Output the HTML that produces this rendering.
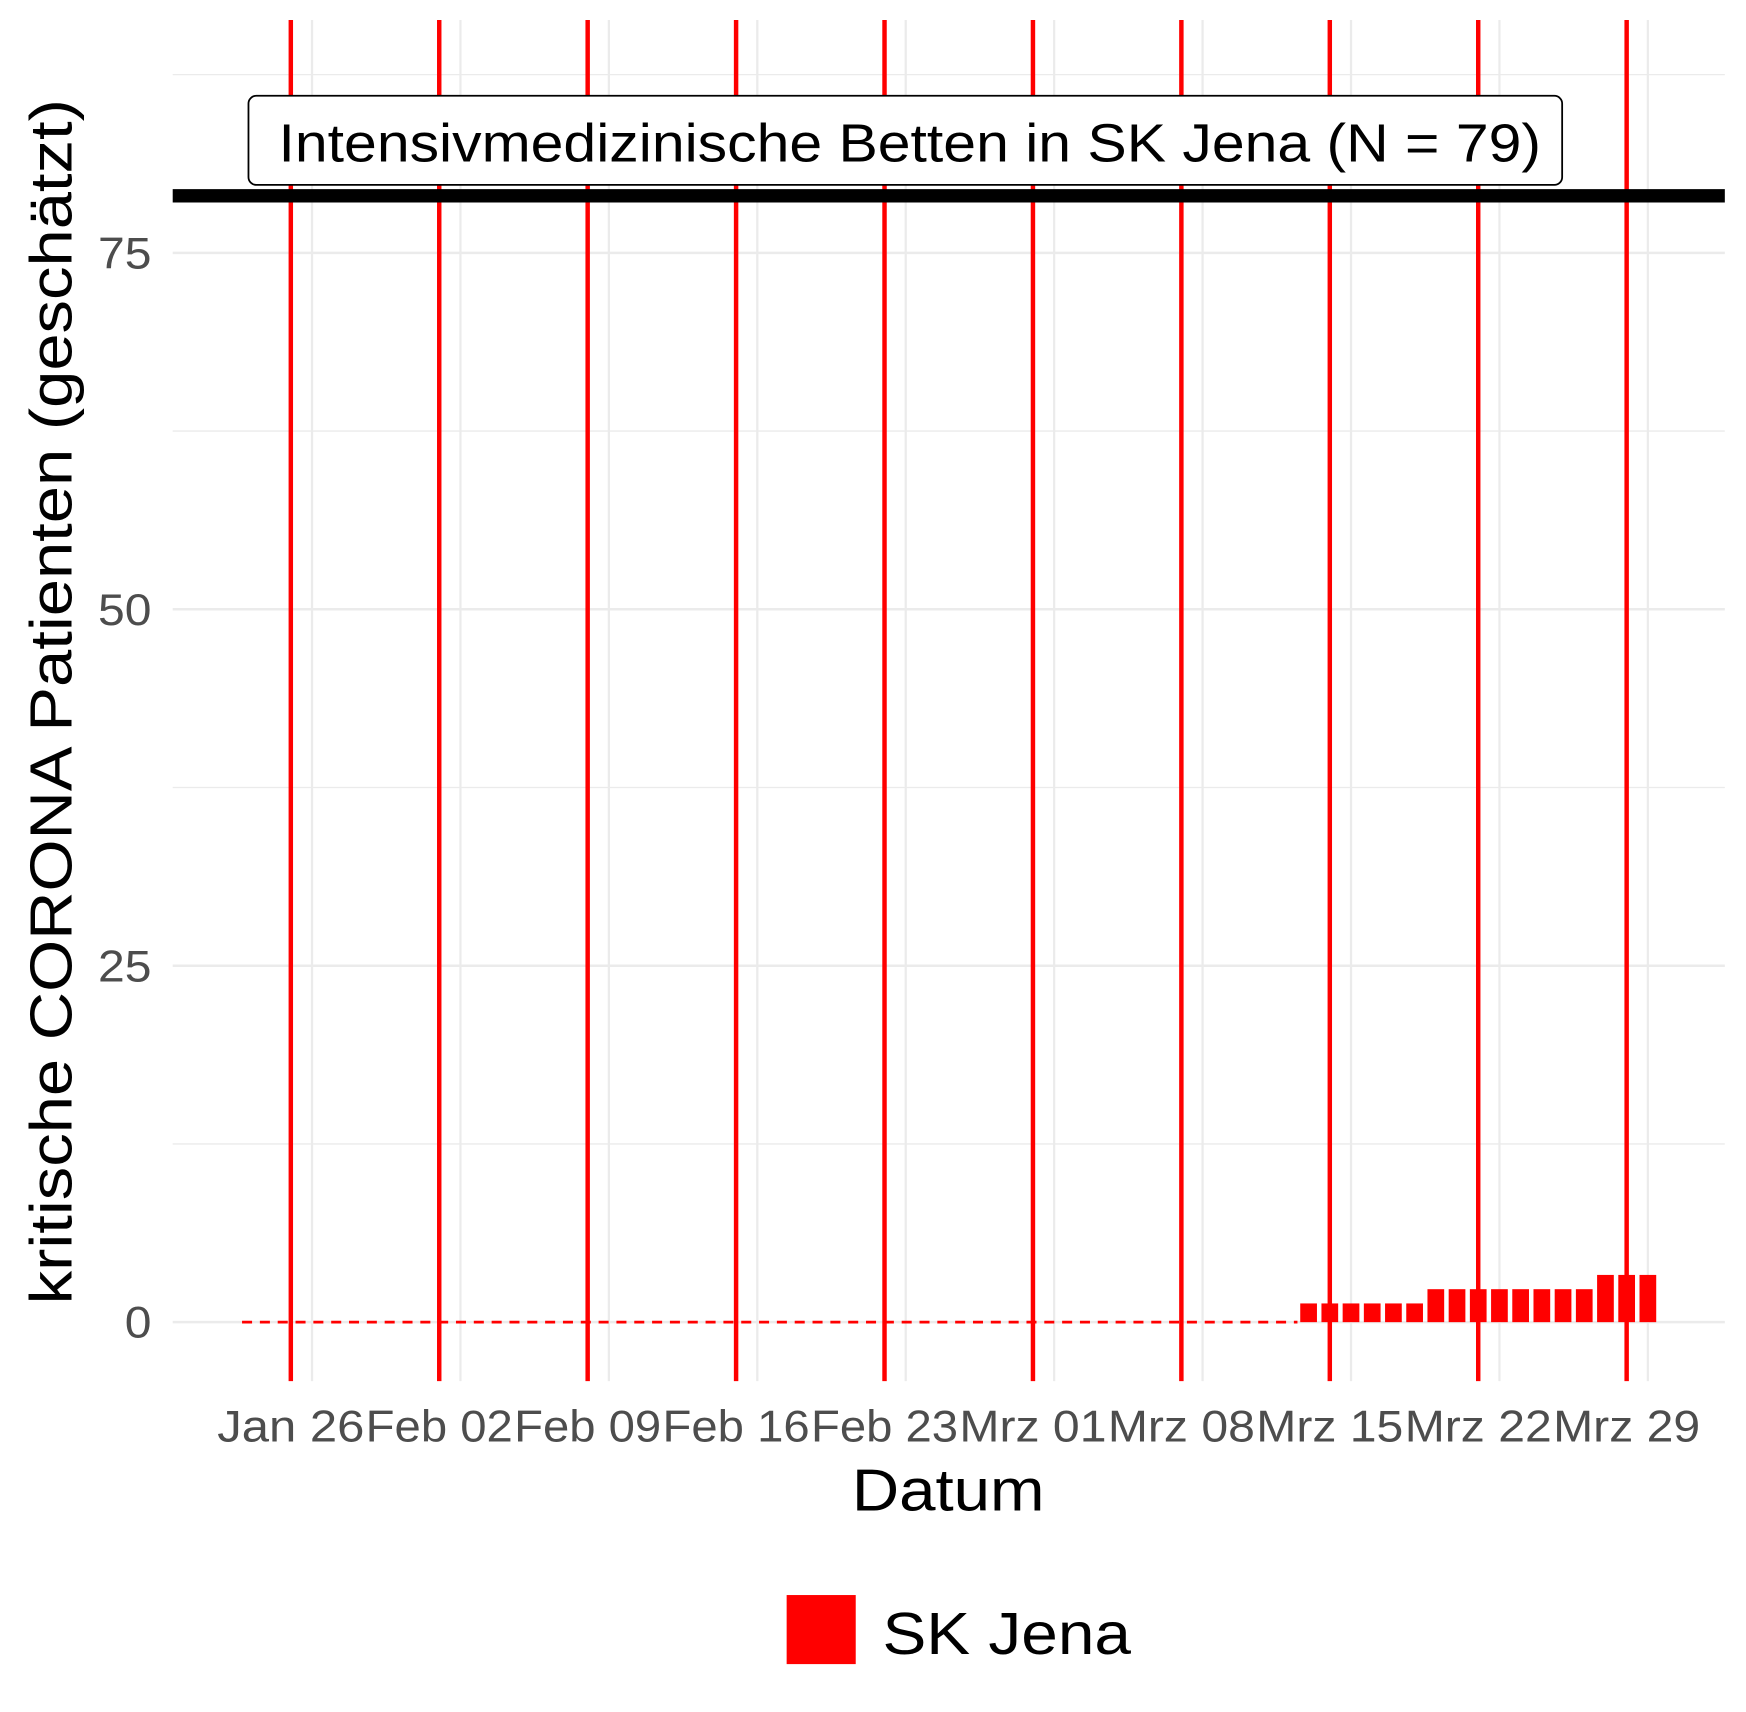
<!DOCTYPE html>
<html><head><meta charset="utf-8"><style>html,body{margin:0;padding:0;background:#fff}svg{display:block}</style></head>
<body>
<svg id="chart" width="1746" height="1712" viewBox="0 0 1567 1537" preserveAspectRatio="none" xmlns="http://www.w3.org/2000/svg" font-family="Liberation Sans, Arial, sans-serif">
<g id="grid"></g><g id="marks"></g><g id="axes"></g>
</svg>
<script>
const yTicks=[0,25,50,75];
const xTickLabels=["Jan 26","Feb 02","Feb 09","Feb 16","Feb 23","Mrz 01","Mrz 08","Mrz 15","Mrz 22","Mrz 29"];
const barDays=[48,49,50,51,52,53,54,55,56,57,58,59,60,61,62,63,64];
const barValues=[1,1,1,1,1,1,2,2,2,2,2,2,2,2,3,3,3];
const capacity=[79];
const NS="http://www.w3.org/2000/svg";
const y=v=>1187-v*12.8;
const x=d=>261+d*19.03;
function mk(p,t,a){const e=document.createElementNS(NS,t);for(const k in a)e.setAttribute(k,a[k]);p.appendChild(e);return e;}
const G=document.getElementById('grid'),M=document.getElementById('marks'),A=document.getElementById('axes');
[...yTicks, ...yTicks.map(v=>v+12.5)].forEach(v=>{const l=mk(G,'line',{x1:155,x2:1548,y1:y(v),y2:y(v),stroke:'#ebebeb','stroke-width':v%25===0?2.2:1.2});

});
xTickLabels.forEach((t,i)=>{const gx=x(i*7+1);const l=mk(G,'line',{x1:gx,x2:gx,y1:18,y2:1240,stroke:'#ebebeb','stroke-width':2});

});
xTickLabels.forEach((t,i)=>{const rx=x(i*7);const l=mk(M,'line',{x1:rx,x2:rx,y1:18,y2:1240,stroke:'#ff0000','stroke-width':4});

});
const dl=mk(M,'line',{x1:x(-2.3),x2:x(barDays[0])-10,y1:y(0),y2:y(0),stroke:'#ff0000','stroke-width':2.5,'stroke-dasharray':'9 7'});


barDays.forEach((d,i)=>{const top=y(barValues[i])-4;const r=mk(M,'rect',{x:x(d)-7.5,width:15,y:top,height:y(0)-top,fill:'#ff0000'});

});
const cl=mk(M,'line',{x1:155,x2:1548,y1:y(capacity[0]),y2:y(capacity[0]),stroke:'#000','stroke-width':12});


const bx=mk(M,'rect',{x:223,y:86,width:1179,height:80,rx:7,fill:'#fff',stroke:'#000','stroke-width':1.6});


const bt=mk(M,'text',{x:250,y:145,'font-size':48,fill:'#000',textLength:1133,lengthAdjust:'spacingAndGlyphs'});bt.textContent='Intensivmedizinische Betten in SK Jena (N = '+capacity[0]+')';


yTicks.forEach(v=>{const t=mk(A,'text',{x:136,y:y(v)+14,'text-anchor':'end','font-size':40,fill:'#4d4d4d',textLength:String(v).length*24,lengthAdjust:'spacingAndGlyphs'});t.textContent=v;

});
xTickLabels.forEach((s,i)=>{const t=mk(A,'text',{x:x(i*7),y:1294,'text-anchor':'middle','font-size':40,fill:'#4d4d4d',textLength:132,lengthAdjust:'spacingAndGlyphs'});t.textContent=s;

});
const xt=mk(A,'text',{x:851,y:1356,'text-anchor':'middle','font-size':53,fill:'#000',textLength:173,lengthAdjust:'spacingAndGlyphs'});xt.textContent='Datum';


const yt=mk(A,'text',{x:0,y:0,'text-anchor':'middle','font-size':53,fill:'#000',transform:'translate(64,630) rotate(-90)',textLength:1082,lengthAdjust:'spacingAndGlyphs'});yt.textContent='kritische CORONA Patienten (geschätzt)';


const ls=mk(A,'rect',{x:706,y:1432,width:62,height:62,fill:'#ff0000'});


const lt=mk(A,'text',{x:792,y:1485,'font-size':53,fill:'#000',textLength:223,lengthAdjust:'spacingAndGlyphs'});lt.textContent='SK Jena';


</script>
</body></html>
